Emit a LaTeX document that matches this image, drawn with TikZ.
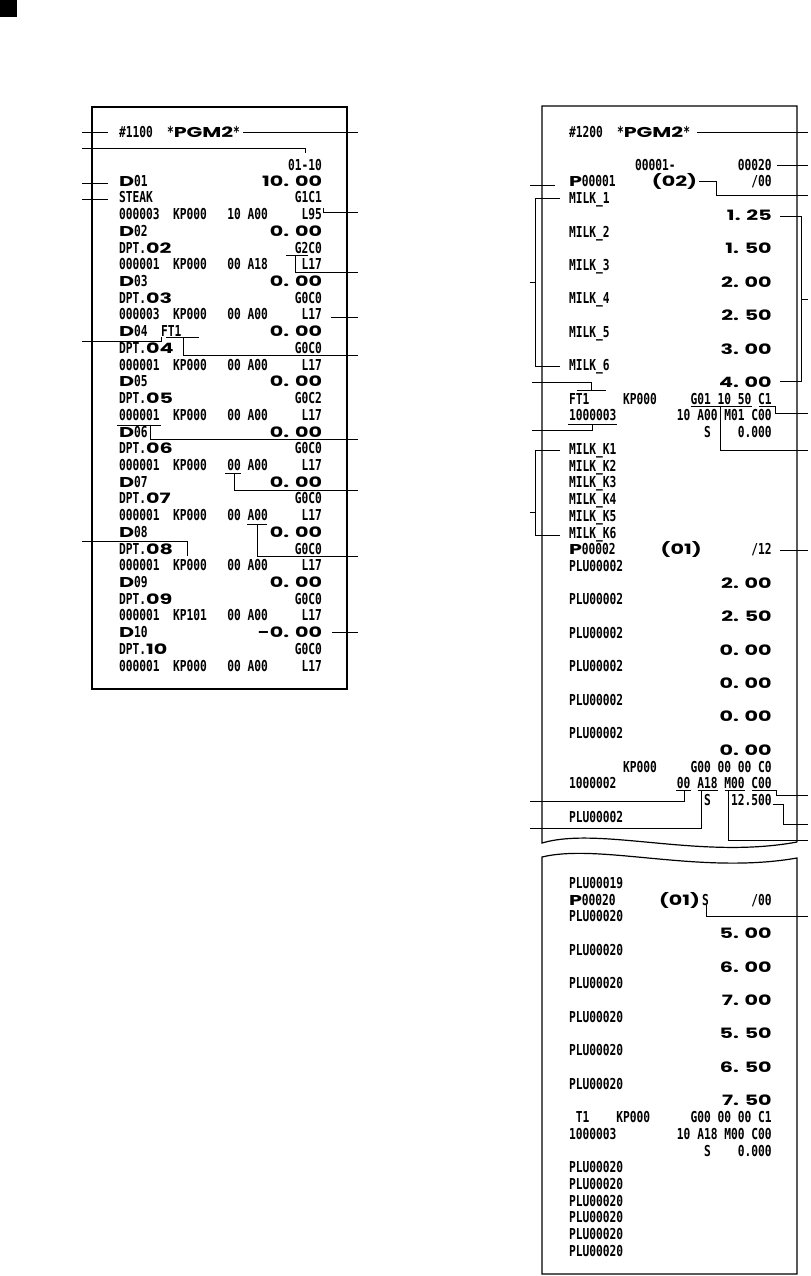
\documentclass[tikz,border=0pt]{standalone}
\usepackage{fontspec}
\newfontfamily\rfont{DejaVu Sans Mono}[FakeStretch=0.746]
\newfontfamily\bigfont{Poppins}[FakeStretch=1.45]
\newcommand\BG[1]{{\bigfont\bfseries\fontsize{10.7}{12}\selectfont #1}}
\def\ylft#1{(186.2+16.72*(#1))}
\def\yrgt#1{(186.9+16.72*(#1))}
\def\ysec#1{(888.5+16.72*(#1))}
\newcommand\lrL[3]{\node[tl] (#1) at (119,{\ylft{#2}}) {#3};}
\newcommand\lrR[3]{\node[tr] (#1) at (322,{\ylft{#2}}) {#3};}
\newcommand\rrL[3]{\node[tl] (#1) at (569,{\yrgt{#2}}) {#3};}
\newcommand\rrR[3]{\node[tr] (#1) at (771.7,{\yrgt{#2}}) {#3};}
\newcommand\srL[3]{\node[tl] (#1) at (569,{\ysec{#2}}) {#3};}
\newcommand\srR[3]{\node[tr] (#1) at (771.7,{\ysec{#2}}) {#3};}
\begin{document}
\begin{tikzpicture}[x=0.75pt,y=-0.75pt,
  txt/.style={inner sep=0pt,outer sep=0pt,font=\rfont\bfseries\fontsize{11.3}{12}\selectfont},
  tl/.style={txt,anchor=base west},
  tr/.style={txt,anchor=base east},
  ln/.style={line width=0.7pt},
  paper/.style={line width=0.9pt}]
\useasboundingbox (0,0) rectangle (810,1276);
\fill (0,0) rectangle (17,17);

% ---------------- left receipt ----------------
\draw[paper] (92,107) rectangle (347,689);
\node[tl] (t1) at (119,137.5) {\#1100};
\node[tl] (t2) at (167,137.5) {*\BG{PGM2}*};
\node[tr] (t3) at (322,170.2) {01-10};
\lrL{a0}{0}{\BG{D}01}            \lrR{b0}{0}{\BG{10. 00}}
\lrL{a1}{1}{STEAK}               \lrR{b1}{1}{G1C1}
\lrL{a2}{2}{000003~~KP000~~~10~A00} \lrR{b2}{2}{L95}
\lrL{a3}{3}{\BG{D}02}            \lrR{b3}{3}{\BG{0. 00}}
\lrL{a4}{4}{DPT.\BG{02}}         \lrR{b4}{4}{G2C0}
\lrL{a5}{5}{000001~~KP000~~~00~A18} \lrR{b5}{5}{L17}
\lrL{a6}{6}{\BG{D}03}            \lrR{b6}{6}{\BG{0. 00}}
\lrL{a7}{7}{DPT.\BG{03}}         \lrR{b7}{7}{G0C0}
\lrL{a8}{8}{000003~~KP000~~~00~A00} \lrR{b8}{8}{L17}
\lrL{a9}{9}{\BG{D}04~~FT1}       \lrR{b9}{9}{\BG{0. 00}}
\lrL{a10}{10}{DPT.\BG{04}}       \lrR{b10}{10}{G0C0}
\lrL{a11}{11}{000001~~KP000~~~00~A00} \lrR{b11}{11}{L17}
\lrL{a12}{12}{\BG{D}05}          \lrR{b12}{12}{\BG{0. 00}}
\lrL{a13}{13}{DPT.\BG{05}}       \lrR{b13}{13}{G0C2}
\lrL{a14}{14}{000001~~KP000~~~00~A00} \lrR{b14}{14}{L17}
\lrL{a15}{15}{\BG{D}06}          \lrR{b15}{15}{\BG{0. 00}}
\lrL{a16}{16}{DPT.\BG{06}}       \lrR{b16}{16}{G0C0}
\lrL{a17}{17}{000001~~KP000~~~00~A00} \lrR{b17}{17}{L17}
\lrL{a18}{18}{\BG{D}07}          \lrR{b18}{18}{\BG{0. 00}}
\lrL{a19}{19}{DPT.\BG{07}}       \lrR{b19}{19}{G0C0}
\lrL{a20}{20}{000001~~KP000~~~00~A00} \lrR{b20}{20}{L17}
\lrL{a21}{21}{\BG{D}08}          \lrR{b21}{21}{\BG{0. 00}}
\lrL{a22}{22}{DPT.\BG{08}}       \lrR{b22}{22}{G0C0}
\lrL{a23}{23}{000001~~KP000~~~00~A00} \lrR{b23}{23}{L17}
\lrL{a24}{24}{\BG{D}09}          \lrR{b24}{24}{\BG{0. 00}}
\lrL{a25}{25}{DPT.\BG{09}}       \lrR{b25}{25}{G0C0}
\lrL{a26}{26}{000001~~KP101~~~00~A00} \lrR{b26}{26}{L17}
\lrL{a27}{27}{\BG{D}10}          \lrR{b27}{27}{\BG{-0. 00}}
\lrL{a28}{28}{DPT.\BG{10}}       \lrR{b28}{28}{G0C0}
\lrL{a29}{29}{000001~~KP000~~~00~A00} \lrR{b29}{29}{L17}

% callouts, left receipt
\draw[ln] (82,132.3) -- (108,132.3);
\draw[ln] (82,148.3) -| (305,153.5);
\draw[ln] (82,183.3) -- (108,183.3);
\draw[ln] (82,199) -- (108,199);
\draw[ln] (243,132.3) -- (358,132.3);
\draw[ln] (323,208) |- (358,212.3);
\draw[ln] (286,255) -- (308,255);
\draw[ln] (295,255) |- (358,272.7);
\draw[ln] (331,317.3) -- (358,317.3);
\draw[ln] (82,341) -| (161.7,336.7);
\draw[ln] (166,337.7) -- (199.3,337.7);
\draw[ln] (183.3,337.7) |- (358,355.7);
\draw[ln] (117,425) -- (160.7,425);
\draw[ln] (150,425) |- (358,439);
\draw[ln] (225,473.3) -- (240.7,473.3);
\draw[ln] (234.3,473.3) |- (358,490);
\draw[ln] (247.3,524.3) -- (267.3,524.3);
\draw[ln] (257.3,524.3) |- (358,556);
\draw[ln] (82,541.7) -| (187.7,556);
\draw[ln] (331.7,632.3) -- (358,632.3);

% ---------------- right receipt, first piece ----------------
\draw[paper] (797,842) -- (797,106) -- (542,106) -- (542,843)
  .. controls (600,826) and (700,860) .. (797,842);
\node[tl] (u1) at (569,137.5) {\#1200};
\node[tl] (u2) at (617,137.5) {*\BG{PGM2}*};
\node[tl] (u3) at (635,170.2) {00001-};
\node[tr] (u4) at (771.7,170.2) {00020};
\rrL{p0}{0}{\BG{P}00001}
\node[tl,anchor=base east] (m0) at (697,{\yrgt{0}}) {\BG{(02)}};
\rrR{q0}{0}{/00}
\rrL{p1}{1}{MILK\_1}   \rrR{q2}{2}{\BG{1. 25}}
\rrL{p3}{3}{MILK\_2}   \rrR{q4}{4}{\BG{1. 50}}
\rrL{p5}{5}{MILK\_3}   \rrR{q6}{6}{\BG{2. 00}}
\rrL{p7}{7}{MILK\_4}   \rrR{q8}{8}{\BG{2. 50}}
\rrL{p9}{9}{MILK\_5}   \rrR{q10}{10}{\BG{3. 00}}
\rrL{p11}{11}{MILK\_6} \rrR{q12}{12}{\BG{4. 00}}
\rrL{p13}{13}{FT1~~~~~KP000} \rrR{q13}{13}{G01~10~50~C1}
\rrL{p14}{14}{1000003}       \rrR{q14}{14}{10~A00~M01~C00}
\rrR{q15}{15}{S~~~~0.000}
\rrL{p16}{16}{MILK\_K1}
\rrL{p17}{17}{MILK\_K2}
\rrL{p18}{18}{MILK\_K3}
\rrL{p19}{19}{MILK\_K4}
\rrL{p20}{20}{MILK\_K5}
\rrL{p21}{21}{MILK\_K6}
\rrL{p22}{22}{\BG{P}00002}
\node[tl,anchor=base east] (m22) at (701.7,{\yrgt{22}}) {\BG{(01)}};
\rrR{q22}{22}{/12}
\rrL{p23}{23}{PLU00002} \rrR{q24}{24}{\BG{2. 00}}
\rrL{p25}{25}{PLU00002} \rrR{q26}{26}{\BG{2. 50}}
\rrL{p27}{27}{PLU00002} \rrR{q28}{28}{\BG{0. 00}}
\rrL{p29}{29}{PLU00002} \rrR{q30}{30}{\BG{0. 00}}
\rrL{p31}{31}{PLU00002} \rrR{q32}{32}{\BG{0. 00}}
\rrL{p33}{33}{PLU00002} \rrR{q34}{34}{\BG{0. 00}}
\rrL{p35}{35}{~~~~~~~~KP000} \rrR{q35}{35}{G00~00~00~C0}
\rrL{p36}{36}{1000002}       \rrR{q36}{36}{00~A18~M00~C00}
\rrR{q37}{37}{S~~~12.500}
\rrL{p38}{38}{PLU00002}

% callouts, right receipt
\draw[ln] (696.7,132.3) -- (808.3,132.3);
\draw[ln] (776.7,165) -- (808.3,165);
\draw[ln] (699,181.7) -- (716.7,181.7) -- (716.7,195) -- (808.3,195);
\draw[ln] (530,185) -- (555,185);
\draw[ln] (560,198.3) -- (535,198.3) -- (535,366.7) -- (560,366.7);
\draw[ln] (530,282.5) -- (535,282.5);
\draw[ln] (780,216.7) -- (801.7,216.7) -- (801.7,381.7) -- (780,381.7);
\draw[ln] (801.7,299) -- (808.3,299);
\draw[ln] (531.7,382.7) -| (591.7,390);
\draw[ln] (577.3,390) -- (606,390);
\draw[ln] (690.7,406) -- (752.3,406);
\draw[ln] (759.3,406) -- (775.3,406) |- (808.3,413.3);
\draw[ln] (720.7,406) |- (808.3,450);
\draw[ln] (568.3,424) -- (616.7,424);
\draw[ln] (531.7,430) -| (592.7,424);
\draw[ln] (560,450) -- (535,450) -- (535,535) -- (560,535);
\draw[ln] (530,512.7) -- (535,512.7);
\draw[ln] (780,550) -- (808.3,550);
\draw[ln] (676,790.7) -- (690.8,790.7);
\draw[ln] (684,790.7) |- (530,801.7);
\draw[ln] (697.6,790.7) -- (717.9,790.7);
\draw[ln] (701.7,790.7) |- (530,828.3);
\draw[ln] (724.7,790.7) -- (745,790.7);
\draw[ln] (728.3,790.7) |- (808.3,840);
\draw[ln] (751.8,790.7) -- (776.7,790.7) |- (808.3,795);
\draw[ln] (772.7,804) -| (783.3,824) -- (808.3,824);

% ---------------- right receipt, second piece ----------------
\draw[paper] (542,857) .. controls (600,843) and (700,875) .. (797,858)
  -- (797,1274) -- (542,1274) -- cycle;
\srL{s0}{0}{PLU00019}
\srL{s1}{1}{\BG{P}00020}
\node[tl,anchor=base east] (n1) at (700,{\ysec{1}}) {\BG{(01)}};
\node[tl] (n1s) at (702,{\ysec{1}}) {S};
\srR{r1}{1}{/00}
\srL{s2}{2}{PLU00020}   \srR{r3}{3}{\BG{5. 00}}
\srL{s4}{4}{PLU00020}   \srR{r5}{5}{\BG{6. 00}}
\srL{s6}{6}{PLU00020}   \srR{r7}{7}{\BG{7. 00}}
\srL{s8}{8}{PLU00020}   \srR{r9}{9}{\BG{5. 50}}
\srL{s10}{10}{PLU00020} \srR{r11}{11}{\BG{6. 50}}
\srL{s12}{12}{PLU00020} \srR{r13}{13}{\BG{7. 50}}
\srL{s14}{14}{~T1~~~~KP000} \srR{r14}{14}{G00~00~00~C1}
\srL{s15}{15}{1000003}      \srR{r15}{15}{10~A18~M00~C00}
\srR{r16}{16}{S~~~~0.000}
\srL{s17}{17}{PLU00020}
\srL{s18}{18}{PLU00020}
\srL{s19}{19}{PLU00020}
\srL{s20}{20}{PLU00020}
\srL{s21}{21}{PLU00020}
\srL{s22}{22}{PLU00020}
\draw[ln] (706.7,905) |- (808.3,916.7);
\end{tikzpicture}
\end{document}
